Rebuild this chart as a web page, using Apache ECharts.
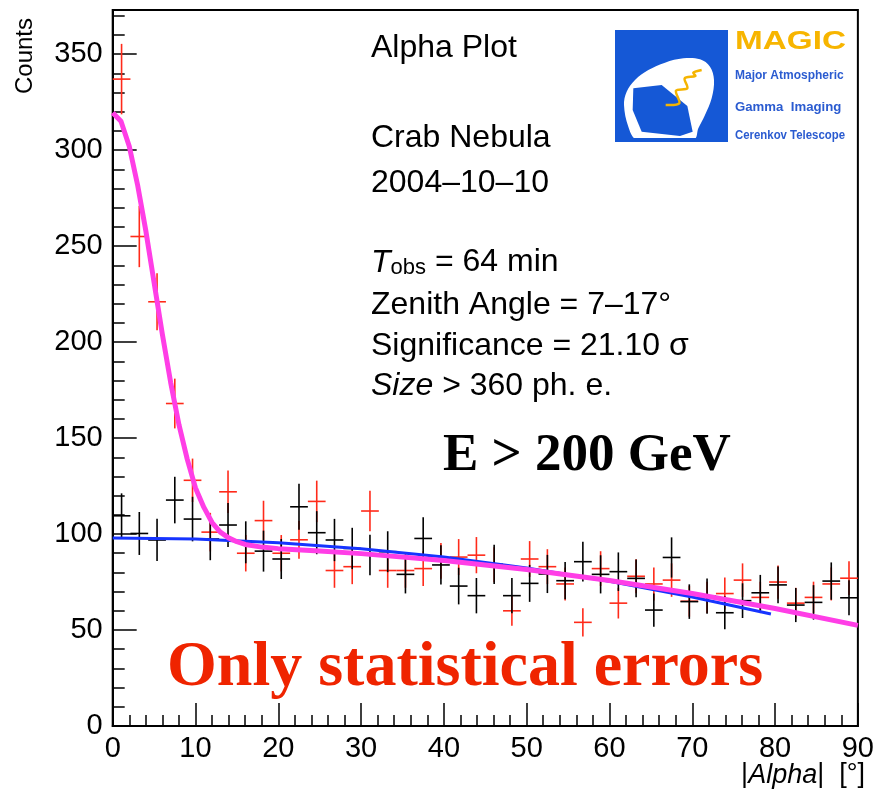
<!DOCTYPE html>
<html>
<head>
<meta charset="utf-8">
<title>Alpha Plot - Crab Nebula 2004-10-10</title>
<script src="https://cdn.jsdelivr.net/npm/echarts@6/dist/echarts.min.js"></script>
<style>
  html, body { margin: 0; padding: 0; background: #ffffff; overflow: hidden; }
  #chart { width: 877px; height: 800px; }
</style>
</head>
<body>
<div id="chart"></div>
<script>
// |Alpha| histogram binning (degrees)
const alphaMin = 0;
const alphaMax = 90;
const binCount = 42;

// ON-source counts per bin (red)
const onCounts = [337, 255, 221, 168, 128, 101, 122, 90, 107, 90,
                  97, 117, 81, 83, 112, 81, 81, 82, 86, 88,
                  89, 84, 60, 87, 83, 74, 54, 82, 64, 78,
                  74, 76, 65, 67, 69, 76, 67, 75, 64, 67,
                  74, 77];

// OFF-source counts per bin, normalised (black)
const offCounts = [109.5, 100.3, 96.9, 117.7, 107.8, 97.4, 104.7, 95.7, 91.1, 87.0,
                   114.2, 100.7, 96.9, 92.5, 89.1, 90.8, 79.0, 97.7, 83.9, 72.9,
                   67.9, 84.2, 67.9, 74.3, 79.2, 75.7, 85.6, 79.0, 80.4, 76.9,
                   60.4, 87.8, 64.8, 67.7, 59.0, 65.3, 69.4, 73.5, 63.0, 64.4,
                   75.5, 66.8];
// OFF normalisation factor, used for the Poisson error of the OFF bins
const offNorm = 1.25;

// ON fit: gaussian signal + background, sampled along |Alpha|
const onFitAlpha = [0, 1, 2, 3, 4, 5, 6, 7, 8, 9, 10, 11, 12, 13, 14, 15, 16, 18, 20, 25, 30, 40, 50, 60, 70, 80, 90];
const onFitCounts = [319.5, 315, 302, 282, 258, 231, 204, 179, 157, 139, 124, 114, 106, 101, 98, 96, 94.6, 93.2, 92.4, 91.2, 89.8, 86.2, 81.5, 75.8, 69.0, 61.2, 52.4];

// OFF fit: background only
const offFitAlpha = [0, 10, 20, 30, 40, 50, 60, 70, 79.5];
const offFitCounts = [98, 97.4, 95.5, 92.3, 88, 82.3, 75.4, 67.2, 58.3];

// Axis ticks
const xTicks = [0, 10, 20, 30, 40, 50, 60, 70, 80, 90];
const yTicks = [0, 50, 100, 150, 200, 250, 300, 350];
const yTop = 373;

const binWidth = (alphaMax - alphaMin) / binCount;
const binCenters = onCounts.map((_, i) => alphaMin + binWidth * (i + 0.5));

function crossData(counts, norm) {
  return counts.map((n, i) => [binCenters[i], n, Math.sqrt(n * norm)]);
}

function crossRenderer(color) {
  return function (params, api) {
    const x = api.value(0), y = api.value(1), e = api.value(2);
    const c = api.coord([x, y]);
    const hi = api.coord([x, y + e]);
    const lo = api.coord([x, y - e]);
    const w = api.size([binWidth, 0])[0];
    const style = { stroke: color, lineWidth: 1.6 };
    return {
      type: 'group',
      children: [
        { type: 'line', shape: { x1: c[0] - w / 2, y1: c[1], x2: c[0] + w / 2, y2: c[1] }, style: style },
        { type: 'line', shape: { x1: c[0], y1: hi[1], x2: c[0], y2: lo[1] }, style: style }
      ]
    };
  };
}

const textFont = 'Liberation Sans';
const infoFont = '32px "Liberation Sans"';

// MAGIC logo geometry
function lp(pts) { return pts.map(p => [600 + p[0] / 3, 20 + p[1] / 3]); }
const dishOutline = lp([[72,255],[80,215],[105,180],[145,150],[195,128],[250,115],[300,118],[330,140],[342,180],[335,235],[315,285],[295,325],[282,358],[110,358],[85,320]]);
const dishMirror = lp([[100,205],[185,195],[262,258],[278,335],[240,348],[125,335],[98,270]]);
const photonTrack = lp([[197,255],[238,250],[228,212],[262,205],[254,175],[286,168],[280,158],[305,150]]);

const chart = echarts.init(document.getElementById('chart'), null, { renderer: 'canvas' });

chart.setOption({
  animation: false,
  backgroundColor: '#ffffff',
  grid: {
    left: 112.7, right: 12.7, top: 10, bottom: 74,
    show: true, borderColor: '#000000', borderWidth: 2, backgroundColor: 'transparent'
  },
  xAxis: {
    type: 'value', min: alphaMin, max: alphaMax, interval: 10,
    axisLine: { show: true, onZero: false, lineStyle: { color: '#000', width: 2 } },
    axisTick: { show: true, inside: true, length: 23, lineStyle: { color: '#000', width: 1.5 } },
    minorTick: { show: true, splitNumber: 5, length: 11, lineStyle: { color: '#000', width: 1.5 } },
    splitLine: { show: false },
    axisLabel: {
      margin: 8, color: '#000', fontFamily: textFont, fontSize: 29,
      formatter: v => (xTicks.indexOf(v) >= 0 ? String(v) : '')
    }
  },
  yAxis: [
    {
      type: 'value', min: 0, max: yTop, interval: 50,
      axisLine: { show: true, onZero: false, lineStyle: { color: '#000', width: 2 } },
      axisTick: { show: true, inside: true, length: 24, lineStyle: { color: '#000', width: 1.5 } },
      splitLine: { show: false },
      axisLabel: {
        margin: 10, color: '#000', fontFamily: textFont, fontSize: 29,
        formatter: v => (yTicks.indexOf(v) >= 0 ? String(v) : '')
      }
    },
    {
      // minor ticks every 10 counts
      type: 'value', min: 0, max: yTop, interval: 10, position: 'left',
      axisLine: { show: false },
      axisTick: { show: true, inside: true, length: 12, lineStyle: { color: '#000', width: 1.5 } },
      axisLabel: { show: false },
      splitLine: { show: false }
    }
  ],
  series: [
    {
      type: 'custom', name: 'ON', yAxisIndex: 0,
      data: crossData(onCounts, 1),
      renderItem: crossRenderer('#ff2a1a'),
      clip: false, z: 2
    },
    {
      type: 'custom', name: 'OFF', yAxisIndex: 0,
      data: crossData(offCounts, offNorm),
      renderItem: crossRenderer('#000000'),
      clip: false, z: 3
    },
    {
      type: 'line', name: 'OFF fit', yAxisIndex: 0,
      data: offFitAlpha.map((a, i) => [a, offFitCounts[i]]),
      showSymbol: false, smooth: false,
      lineStyle: { color: '#1634ff', width: 3 }, z: 4
    },
    {
      type: 'line', name: 'ON fit', yAxisIndex: 0,
      data: onFitAlpha.map((a, i) => [a, onFitCounts[i]]),
      showSymbol: false, smooth: false,
      lineStyle: { color: '#ff3ee6', width: 5, join: 'round' }, z: 5
    }
  ],
  graphic: [
    { type: 'text', x: 25, y: 18, rotation: Math.PI / 2,
      style: { text: 'Counts', font: '24px "Liberation Sans"', fill: '#000', align: 'right', verticalAlign: 'middle' } },
    { type: 'text', x: 865, y: 775,
      style: {
        text: '|{i|Alpha}|  [°]', fill: '#000', align: 'right', verticalAlign: 'middle',
        font: '27px "Liberation Sans"',
        rich: { i: { fontStyle: 'italic', fontFamily: textFont, fontSize: 27 } }
      } },

    { type: 'text', x: 371, y: 48, style: { text: 'Alpha Plot', font: infoFont, fill: '#000', verticalAlign: 'middle' } },
    { type: 'text', x: 371, y: 138, style: { text: 'Crab Nebula', font: infoFont, fill: '#000', verticalAlign: 'middle' } },
    { type: 'text', x: 371, y: 183, style: { text: '2004\u201310\u201310', font: infoFont, fill: '#000', verticalAlign: 'middle' } },
    { type: 'text', x: 371, y: 262,
      style: {
        text: '{t|T}{s|obs}{n| = 64 min}', fill: '#000', verticalAlign: 'middle',
        rich: {
          t: { fontFamily: textFont, fontStyle: 'italic', fontSize: 32, verticalAlign: 'bottom' },
          s: { fontFamily: textFont, fontSize: 22, padding: [12, 0, 0, 0] },
          n: { fontFamily: textFont, fontSize: 32 }
        }
      } },
    { type: 'text', x: 371, y: 305, style: { text: 'Zenith Angle = 7\u201317°', font: infoFont, fill: '#000', verticalAlign: 'middle' } },
    { type: 'text', x: 371, y: 346, style: { text: 'Significance = 21.10 σ', font: infoFont, fill: '#000', verticalAlign: 'middle' } },
    { type: 'text', x: 371, y: 386,
      style: {
        text: '{i|Size} > 360 ph. e.', fill: '#000', verticalAlign: 'middle', font: infoFont,
        rich: { i: { fontFamily: textFont, fontStyle: 'italic', fontSize: 32 } }
      } },

    { type: 'text', x: 443, y: 456, style: { text: 'E > 200 GeV', font: 'bold 53px "Liberation Serif"', fill: '#000', verticalAlign: 'middle' } },
    { type: 'text', x: 167, y: 668, style: { text: 'Only statistical errors', font: 'bold 64px "Liberation Serif"', fill: '#ef2400', verticalAlign: 'middle' } },

    // MAGIC logo
    { type: 'rect', shape: { x: 615, y: 30, width: 113, height: 110 }, style: { fill: '#1558d6' } },
    { type: 'polygon', shape: { points: dishOutline, smooth: 0.35 }, style: { fill: '#ffffff' } },
    { type: 'polygon', shape: { points: dishMirror }, style: { fill: '#1558d6' } },
    { type: 'rect', shape: { x: 615, y: 138, width: 113, height: 4 }, style: { fill: '#1558d6' } },
    { type: 'polyline', shape: { points: photonTrack, smooth: 0.3 }, style: { stroke: '#f5b400', lineWidth: 2.5, fill: null } },
    { type: 'text', x: 735, y: 42, scaleX: 1.28,
      style: { text: 'MAGIC', font: 'bold 26px "Liberation Sans"', fill: '#f7b500', verticalAlign: 'middle' } },
    { type: 'text', x: 735, y: 76, style: { text: 'Major Atmospheric', font: 'bold 12px "Liberation Sans"', fill: '#2a5bd0', verticalAlign: 'middle' } },
    { type: 'text', x: 735, y: 108, scaleX: 1.1,
      style: { text: 'Gamma  Imaging', font: 'bold 12px "Liberation Sans"', fill: '#2a5bd0', verticalAlign: 'middle' } },
    { type: 'text', x: 735, y: 136, scaleX: 0.95,
      style: { text: 'Cerenkov Telescope', font: 'bold 12px "Liberation Sans"', fill: '#2a5bd0', verticalAlign: 'middle' } }
  ]
});
</script>
</body>
</html>
